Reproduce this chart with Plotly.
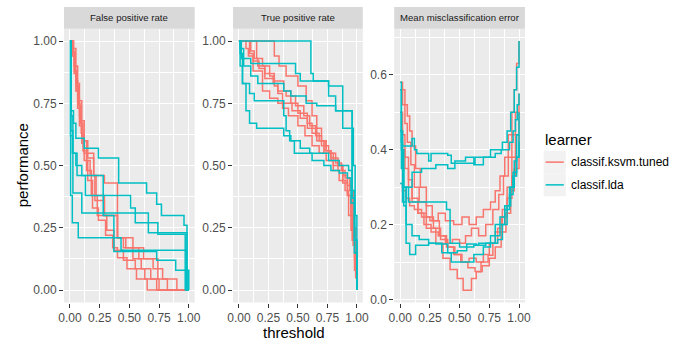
import plotly.graph_objects as go

W, H = 700, 350
RED = "#F8766D"
CYAN = "#00BFC4"
FONT = "Liberation Sans, Arial, sans-serif"

learners = ["classif.ksvm.tuned", "classif.lda"]
panel_titles = ["False positive rate", "True positive rate", "Mean misclassification error"]
tick_vals_01 = [0, 0.25, 0.5, 0.75, 1.0]
tick_text_01 = ["0.00", "0.25", "0.50", "0.75", "1.00"]
tick_vals_mmce = [0.0, 0.2, 0.4, 0.6]
tick_text_mmce = ["0.0", "0.2", "0.4", "0.6"]

# ---------------- False positive rate ----------------
fpr_ksvm_thr = [
    [0, .02, .035, .05, .065, .08, .10, .12, .15, .19, .24, .30, .36, .40, .48, .56, .65, 1.0],
    [0, .025, .04, .055, .07, .085, .10, .12, .20, .22, .29, .40, .45, .53, .60, .68, .73, 1.0],
    [0, .03, .045, .06, .075, .09, .11, .14, .17, .21, .29, .40, .53, .62, .74, .82, 1.0],
    [0, .03, .05, .065, .08, .10, .12, .15, .20, .29, .40, .47, .58, .70, .78, .90, 1.0],
    [0, .02, .035, .05, .065, .08, .095, .11, .14, .18, .23, .31, .37, .45, .55, .63, .75, 1.0],
]
fpr_ksvm_val = [
    [1, .94, .87, .80, .73, .66, .59, .52, .44, .33, .28, .22, .17, .13, .086, .044, 0, 0],
    [1, .95, .88, .82, .75, .68, .62, .55, .46, .38, .30, .21, .17, .126, .086, .044, 0, 0],
    [1, .95, .88, .80, .74, .67, .60, .52, .46, .36, .30, .21, .17, .126, .044, 0, 0],
    [1, .97, .90, .83, .76, .68, .60, .53, .46, .43, .21, .17, .126, .086, .044, 0, 0],
    [1, .96, .90, .84, .77, .70, .63, .56, .48, .38, .30, .24, .16, .12, .086, .044, 0, 0],
]
fpr_lda_thr = [
    [0, .005, .02, .07, .43, .98, 1.0],
    [0, .008, .025, .10, .66, .985, 1.0],
    [0, .01, .03, .05, .12, .24, .41, .645, .73, .77, .96, .985, 1.0],
    [0, .008, .025, .06, .13, .51, .55, .74, .97, 1.0],
    [0, .005, .02, .05, .10, .28, .37, .73, .89, .97, 1.0],
]
fpr_lda_val = [
    [1, .38, .27, .21, .16, 0, 0],
    [1, .70, .39, .31, .23, 0, 0],
    [1, .72, .67, .61, .57, .53, .43, .39, .345, .30, .26, 0, 0],
    [1, .64, .55, .46, .38, .33, .27, .224, .08, 0],
    [1, .62, .55, .50, .46, .30, .155, .12, .08, 0, 0],
]

# ---------------- True positive rate ----------------
tpr_ksvm_thr = [
    [0, .09, .12, .17, .22, .30, .33, .37, .45, .52, .58, .66, .72, .80, .88, .92, .95, .97, .99, 1.0],
    [0, .15, .2, .26, .29, .33, .40, .48, .55, .60, .65, .70, .76, .82, .87, .90, .94, .97, .99, 1.0],
    [0, .06, .08, .12, .20, .26, .33, .37, .42, .50, .56, .62, .68, .74, .80, .85, .90, .93, .96, .98, 1.0],
    [0, .30, .34, .40, .50, .57, .62, .66, .70, .74, .78, .84, .88, .92, .95, .97, .99, 1.0],
    [0, .10, .13, .16, .22, .30, .38, .44, .50, .58, .62, .68, .73, .78, .84, .88, .92, .96, .98, 1.0],
]
tpr_ksvm_val = [
    [1, .95, .92, .89, .85, .82, .79, .75, .72, .69, .65, .60, .55, .50, .44, .38, .24, .18, .05, 0],
    [1, .93, .90, .86, .83, .80, .78, .74, .70, .66, .62, .58, .55, .51, .48, .45, .40, .25, .10, 0],
    [1, .97, .94, .88, .80, .77, .75, .73, .70, .66, .62, .58, .55, .52, .48, .44, .40, .30, .20, .08, 0],
    [1, .94, .90, .86, .82, .76, .70, .65, .60, .56, .52, .48, .43, .38, .30, .18, .05, 0],
    [1, .96, .93, .90, .87, .84, .80, .75, .71, .67, .63, .60, .56, .53, .50, .46, .42, .24, .12, 0],
]
tpr_lda_thr = [
    [0, .61, .63, .76, .88, .97, .985, 1.0],
    [0, .02, .10, .48, .52, .76, .82, .96, .98, 1.0],
    [0, .01, .03, .09, .13, .38, .40, .43, .47, .62, .72, .78, .85, .92, .95, .98, 1.0],
    [0, .01, .03, .06, .09, .15, .38, .44, .52, .60, .76, .85, .93, .96, .98, 1.0],
    [0, .01, .04, .10, .16, .38, .44, .57, .66, .82, .96, .98, 1.0],
]
tpr_lda_val = [
    [1, .87, .84, .82, .65, .50, .30, 0],
    [1, .93, .91, .87, .84, .78, .72, .40, .20, 0],
    [1, .90, .83, .79, .76, .70, .64, .60, .55, .52, .50, .48, .47, .45, .35, .15, 0],
    [1, .95, .83, .72, .67, .65, .62, .60, .57, .55, .52, .50, .48, .37, .20, 0],
    [1, .97, .90, .86, .83, .80, .78, .75, .74, .72, .37, .15, 0],
]

# ---------------- Mean misclassification error ----------------
mmce_ksvm_thr = [
    [0, .02, .04, .07, .10, .15, .22, .30, .36, .42, .48, .53, .60, .64, .68, .74, .78, .82, .86, .90, .94, .97, 1.0],
    [0, .02, .04, .06, .08, .10, .13, .17, .22, .27, .33, .39, .45, .51, .57, .63, .69, .75, .80, .85, .89, .93, .96, 1.0],
    [0, .02, .04, .06, .09, .12, .16, .22, .28, .34, .40, .46, .52, .58, .64, .70, .75, .80, .85, .90, .94, .97, 1.0],
    [0, .02, .04, .07, .10, .15, .20, .26, .32, .38, .44, .50, .55, .60, .66, .72, .78, .83, .87, .91, .94, .97, 1.0],
    [0, .02, .05, .08, .12, .18, .25, .32, .38, .45, .52, .58, .64, .70, .76, .80, .84, .88, .91, .94, .96, .98, 1.0],
]
mmce_ksvm_val = [
    [.50, .44, .38, .32, .27, .23, .19, .15, .11, .08, .056, .025, .056, .074, .10, .118, .15, .19, .24, .30, .38, .44, .50],
    [.58, .56, .52, .49, .45, .41, .35, .30, .25, .21, .17, .14, .12, .10, .085, .075, .09, .11, .14, .18, .23, .29, .35, .42],
    [.56, .52, .47, .42, .36, .30, .26, .22, .19, .16, .14, .12, .10, .11, .10, .12, .15, .18, .22, .27, .33, .38, .44],
    [.45, .40, .35, .30, .26, .23, .20, .18, .17, .15, .16, .15, .17, .19, .17, .20, .24, .28, .33, .38, .44, .50, .55],
    [.31, .29, .27, .25, .24, .22, .21, .23, .21, .20, .22, .20, .22, .24, .26, .29, .33, .38, .44, .50, .56, .63, .69],
]
mmce_lda_thr = [
    [0, .02, .10, .12, .14, .24, .26, .40, .43, .50, .63, .72, .80, .85, .88, .92, .95, .97, .985, 1.0],
    [0, .02, .05, .10, .18, .30, .40, .46, .55, .62, .70, .76, .82, .86, .90, .93, .96, .98, 1.0],
    [0, .01, .03, .07, .39, .42, .50, .62, .66, .72, .76, .80, .84, .88, .92, .95, .98, 1.0],
    [0, .01, .03, .05, .08, .13, .24, .35, .43, .50, .62, .70, .76, .80, .84, .88, .92, .95, .98, 1.0],
    [0, .01, .02, .05, .10, .16, .24, .30, .40, .48, .56, .64, .72, .76, .82, .86, .90, .93, .96, .98, 1.0],
]
mmce_lda_val = [
    [.45, .41, .43, .40, .39, .37, .39, .385, .364, .364, .38, .38, .39, .40, .40, .42, .45, .48, .52, .55],
    [.31, .26, .30, .34, .35, .36, .35, .37, .38, .36, .38, .40, .40, .42, .45, .50, .56, .62, .69],
    [.58, .35, .30, .26, .24, .15, .14, .145, .15, .15, .17, .20, .22, .25, .30, .34, .38, .42],
    [.56, .40, .25, .15, .12, .145, .15, .125, .10, .10, .12, .14, .15, .17, .20, .24, .28, .33, .38, .44],
    [.50, .42, .30, .20, .17, .16, .15, .148, .125, .13, .148, .145, .15, .15, .16, .20, .25, .30, .37, .44, .50],
]

panels = [
    (fpr_ksvm_thr, fpr_ksvm_val, fpr_lda_thr, fpr_lda_val),
    (tpr_ksvm_thr, tpr_ksvm_val, tpr_lda_thr, tpr_lda_val),
    (mmce_ksvm_thr, mmce_ksvm_val, mmce_lda_thr, mmce_lda_val),
]

# layout geometry (pixels)
panel_x_px = [(59, 192), (231, 363), (395, 528)]
plot_top_px, plot_bot_px = 29, 306
strip_top_px = 7


def fx(p):
    return p / W


def fy(p):
    return 1 - p / H


fig = go.Figure()
for i, (kt, kv, lt, lv) in enumerate(panels):
    xa = "x" if i == 0 else f"x{i+1}"
    ya = "y" if i == 0 else f"y{i+1}"
    for thr_list, val_list, color in ((kt, kv, RED), (lt, lv, CYAN)):
        for t, v in zip(thr_list, val_list):
            fig.add_trace(go.Scatter(
                x=t, y=v, mode="lines", xaxis=xa, yaxis=ya,
                line=dict(color=color, width=1.5, shape="hv"),
                showlegend=False, hoverinfo="skip"))

tickfont = dict(family=FONT, size=12, color="#4D4D4D")
layout = dict(
    width=W, height=H, margin=dict(l=0, r=0, t=0, b=0),
    paper_bgcolor="white", plot_bgcolor="#EBEBEB",
    showlegend=False,
)
ydom = [fy(plot_bot_px), fy(plot_top_px)]
for i, (x0, x1) in enumerate(panel_x_px):
    sfx = "" if i == 0 else str(i + 1)
    layout["xaxis" + sfx] = dict(
        domain=[fx(x0), fx(x1)], range=[-0.05, 1.05], anchor="y" + sfx,
        tickvals=tick_vals_01, ticktext=tick_text_01,
        showgrid=True, gridcolor="white", gridwidth=1.1, zeroline=False,
        minor=dict(tickvals=[0.125, 0.375, 0.625, 0.875], showgrid=True,
                   gridcolor="white", gridwidth=0.55, ticks=""),
        ticks="outside", ticklen=4, tickwidth=1, tickcolor="#333333",
        tickfont=tickfont, showline=False, fixedrange=True)
    if i < 2:
        yr = [-0.05, 1.05]
        tv, tt = tick_vals_01, tick_text_01
        mv = [0.125, 0.375, 0.625, 0.875]
    else:
        yr = [-0.008, 0.723]
        tv, tt = tick_vals_mmce, tick_text_mmce
        mv = [0.1, 0.3, 0.5, 0.7]
    layout["yaxis" + sfx] = dict(
        domain=ydom, range=yr, anchor="x" + sfx,
        tickvals=tv, ticktext=tt,
        showgrid=True, gridcolor="white", gridwidth=1.1, zeroline=False,
        minor=dict(tickvals=mv, showgrid=True, gridcolor="white",
                   gridwidth=0.55, ticks=""),
        ticks="outside", ticklen=4, tickwidth=1, tickcolor="#333333",
        tickfont=tickfont, showline=False, fixedrange=True)

shapes = []
annotations = []
for i, (x0, x1) in enumerate(panel_x_px):
    shapes.append(dict(type="rect", xref="paper", yref="paper",
                       x0=fx(x0), x1=fx(x1), y0=fy(plot_top_px), y1=fy(strip_top_px),
                       fillcolor="#D9D9D9", line=dict(width=0), layer="below"))
    annotations.append(dict(xref="paper", yref="paper", x=fx((x0 + x1) / 2),
                            y=fy((plot_top_px + strip_top_px) / 2),
                            text=panel_titles[i], showarrow=False,
                            font=dict(family=FONT, size=9.6, color="#1A1A1A"),
                            xanchor="center", yanchor="middle"))

# axis titles
annotations.append(dict(xref="paper", yref="paper", x=fx(293.5), y=fy(327),
                        text="threshold", showarrow=False,
                        font=dict(family=FONT, size=15, color="black"),
                        xanchor="center", yanchor="top", borderpad=0))
annotations.append(dict(xref="paper", yref="paper", x=fx(17), y=fy(167.5),
                        text="performance", showarrow=False, textangle=-90,
                        font=dict(family=FONT, size=15, color="black"),
                        xanchor="center", yanchor="middle"))

# legend
annotations.append(dict(xref="paper", yref="paper", x=fx(546), y=fy(141.5),
                        text="learner", showarrow=False,
                        font=dict(family=FONT, size=15, color="black"),
                        xanchor="left", yanchor="middle"))
key_tops = [152.5, 175.5]
for k, (name, color) in enumerate(zip(learners, [RED, CYAN])):
    top = key_tops[k]
    shapes.append(dict(type="rect", xref="paper", yref="paper",
                       x0=fx(547), x1=fx(569.5), y0=fy(top + 23), y1=fy(top),
                       fillcolor="#F2F2F2", line=dict(width=0)))
    shapes.append(dict(type="line", xref="paper", yref="paper",
                       x0=fx(549), x1=fx(567.5), y0=fy(top + 11.5), y1=fy(top + 11.5),
                       line=dict(color=color, width=1.5)))
    annotations.append(dict(xref="paper", yref="paper", x=fx(573), y=fy(top + 11.5),
                            text=name, showarrow=False,
                            font=dict(family=FONT, size=12, color="black"),
                            xanchor="left", yanchor="middle"))

layout["shapes"] = shapes
layout["annotations"] = annotations
fig.update_layout(**layout)
fig.write_html("out.html", config={"displayModeBar": False},
               post_script="document.body.style.margin='0';document.body.style.overflow='hidden';")
